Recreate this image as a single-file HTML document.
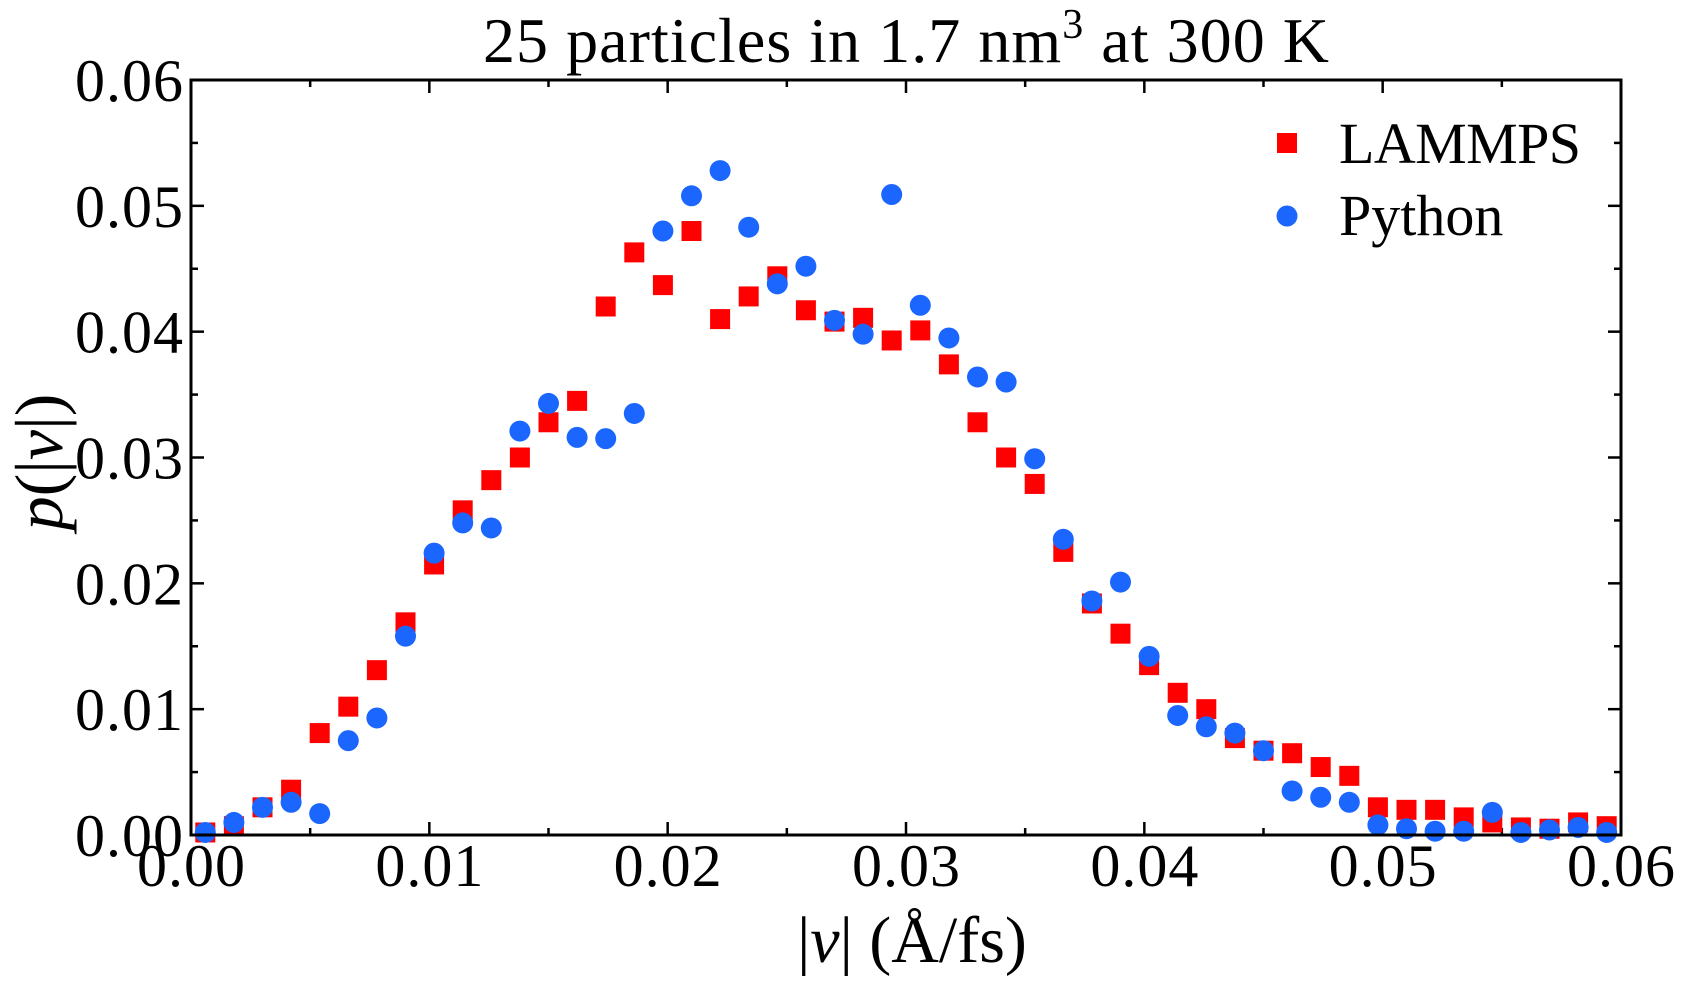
<!DOCTYPE html>
<html><head><meta charset="utf-8"><style>
html,body{margin:0;padding:0;background:#fff;}
svg text{font-family:"Liberation Serif",serif;fill:#000;}
</style></head><body>
<svg id="chart" width="1682" height="982" viewBox="0 0 1682 982" xmlns="http://www.w3.org/2000/svg">
<text x="906" y="62" font-size="64" text-anchor="middle" textLength="846">25 particles in 1.7 nm<tspan dy="-24" font-size="42">3</tspan><tspan dy="24"> at 300 K</tspan></text>
<g id="plot"></g>
<text x="912" y="962" font-size="66" text-anchor="middle">|<tspan font-style="italic">v</tspan>| (Å/fs)</text>
<text transform="translate(62,462) rotate(-90)" font-size="68" text-anchor="middle"><tspan font-style="italic">p</tspan>(|<tspan font-style="italic">v</tspan>|)</text>
<g>
<rect x="1277" y="133" width="20" height="20" fill="#ff0000"/>
<text x="1339" y="163" font-size="58" textLength="242">LAMMPS</text>
<circle cx="1287" cy="216" r="10.5" fill="#1a66ff"/>
<text x="1339" y="235" font-size="58">Python</text>
</g>
</svg>
<script>
const xTicks=[0,0.01,0.02,0.03,0.04,0.05,0.06];
const xTickLabels=["0.00","0.01","0.02","0.03","0.04","0.05","0.06"];
const yTicks=[0,0.01,0.02,0.03,0.04,0.05,0.06];
const yTickLabels=["0.00","0.01","0.02","0.03","0.04","0.05","0.06"];
const binCenters=[];
for(let i=0;i<50;i++)binCenters.push(0.0006+0.0012*i);
const lammps=[0.0002,0.0007,0.0022,0.0036,0.0081,0.0102,0.0131,0.0169,0.0215,0.0258,0.0282,0.0300,0.0328,0.0345,0.0420,0.0463,0.0437,0.0480,0.0410,0.0428,0.0444,0.0417,0.0408,0.0411,0.0393,0.0401,0.0374,0.0328,0.0300,0.0279,0.0225,0.0184,0.0160,0.0135,0.0113,0.0100,0.0077,0.0067,0.0065,0.0054,0.0047,0.0022,0.0020,0.0020,0.0014,0.0010,0.0006,0.0005,0.0010,0.0007];
const python=[0.0002,0.0010,0.0022,0.0026,0.0017,0.0075,0.0093,0.0158,0.0224,0.0248,0.0244,0.0321,0.0343,0.0316,0.0315,0.0335,0.0480,0.0508,0.0528,0.0483,0.0438,0.0452,0.0409,0.0398,0.0509,0.0421,0.0395,0.0364,0.0360,0.0299,0.0235,0.0186,0.0201,0.0142,0.0095,0.0086,0.0081,0.0067,0.0035,0.0030,0.0026,0.0008,0.0005,0.0003,0.0003,0.0018,0.0002,0.0004,0.0006,0.0002];

const L=191,R=1621,T=80,B=835;
const sx=v=>L+(v-0)/(0.06)*(R-L);
const sy=v=>B-(v-0)/(0.06)*(B-T);
const NS="http://www.w3.org/2000/svg";
const g=document.getElementById('plot');
function mk(tag,attrs){const e=document.createElementNS(NS,tag);for(const k in attrs)e.setAttribute(k,attrs[k]);g.appendChild(e);return e;}
for(let k=0;k<=12;k++){
  const v=k*0.005, major=k%2===0, len=major?13:7;
  const x=sx(v), y=sy(v);
  let t=mk('line',{x1:x,y1:B,x2:x,y2:B-len,stroke:'#000','stroke-width':2.5});
  
  
  t=mk('line',{x1:x,y1:T,x2:x,y2:T+len,stroke:'#000','stroke-width':2.5});
  
  
  t=mk('line',{x1:L,y1:y,x2:L+len,y2:y,stroke:'#000','stroke-width':2.5});
  
  
  t=mk('line',{x1:R,y1:y,x2:R-len,y2:y,stroke:'#000','stroke-width':2.5});
  
  
}
xTicks.forEach((v,i)=>{
  const t=mk('text',{x:sx(v),y:886,'font-size':60,'text-anchor':'middle',textLength:108});
  t.textContent=xTickLabels[i];
  
  
});
yTicks.forEach((v,i)=>{
  const t=mk('text',{x:183,y:sy(v)+21,'font-size':60,'text-anchor':'end',textLength:108});
  t.textContent=yTickLabels[i];
  
  
});
lammps.forEach((v,i)=>{
  const r=mk('rect',{x:sx(binCenters[i])-10,y:sy(v)-10,width:20,height:20,fill:'#ff0000'});
  
  
});
python.forEach((v,i)=>{
  const c=mk('circle',{cx:sx(binCenters[i]),cy:sy(v),r:10.5,fill:'#1a66ff'});
  
  
});
const fr=mk('rect',{x:L,y:T,width:R-L,height:B-T,fill:'none',stroke:'#000','stroke-width':3});


</script>
</body></html>
